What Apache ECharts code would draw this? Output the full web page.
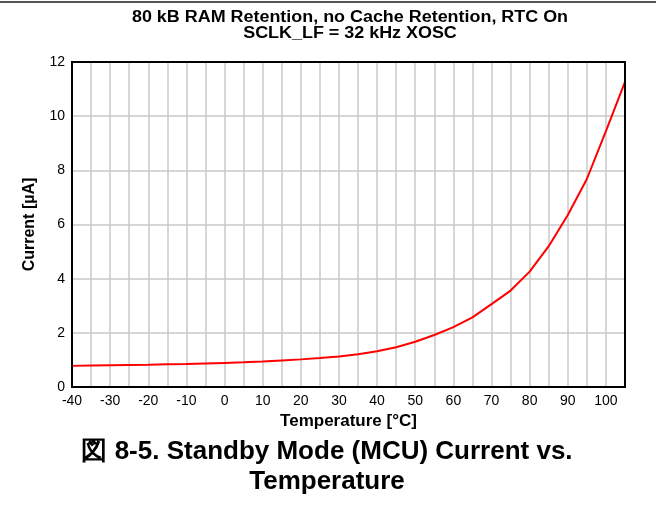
<!DOCTYPE html>
<html>
<head>
<meta charset="utf-8">
<script src="https://cdn.jsdelivr.net/npm/echarts@6/dist/echarts.min.js"></script>
<style>
html,body{margin:0;padding:0;background:#fff;}
#chart{width:656px;height:510px;}
</style>
</head>
<body>
<div id="chart"></div>
<script>
const temperatures = [-40,-35,-30,-25,-20,-15,-10,-5,0,5,10,15,20,25,30,35,40,45,50,55,60,65,70,75,80,85,90,95,100,105];
const currentUA = [0.78,0.79,0.80,0.81,0.82,0.84,0.85,0.87,0.89,0.91,0.94,0.98,1.02,1.07,1.13,1.21,1.32,1.47,1.67,1.92,2.21,2.57,3.06,3.56,4.26,5.2,6.35,7.68,9.45,11.27];
const titleLines = ['80 kB RAM Retention, no Cache Retention, RTC On', 'SCLK_LF = 32 kHz XOSC'];
const xName = 'Temperature [°C]';
const yName = 'Current [µA]';
const captionLines = ['図 8-5. Standby Mode (MCU) Current vs.', 'Temperature'];

const FONT = '"Liberation Sans", Arial, sans-serif';
const chart = echarts.init(document.getElementById('chart'), null, {renderer: 'canvas'});
chart.setOption({
  animation: false,
  backgroundColor: '#fff',
  grid: {left: 72, right: 31, top: 62, bottom: 123, containLabel: false},
  xAxis: {
    type: 'value', min: -40, max: 105, interval: 5,
    name: xName, nameLocation: 'middle', nameGap: 21,
    nameTextStyle: {fontFamily: FONT, fontSize: 17, fontWeight: 'bold', color: '#000'},
    axisLine: {show: true, onZero: false, lineStyle: {color: '#000', width: 2}},
    axisTick: {show: false},
    axisLabel: {fontFamily: FONT, fontSize: 14, color: '#000', margin: 7,
      formatter: v => (v % 10 === 0 && v <= 100) ? String(v) : ''},
    splitLine: {show: true, lineStyle: {color: '#c8c8c8', width: 1.5}}
  },
  yAxis: {
    type: 'value', min: 0, max: 12, interval: 2,
    name: yName, nameLocation: 'middle', nameGap: 34, nameRotate: 90,
    nameTextStyle: {fontFamily: FONT, fontSize: 16, fontWeight: 'bold', color: '#000'},
    axisLine: {show: true, onZero: false, lineStyle: {color: '#000', width: 2}},
    axisTick: {show: false},
    axisLabel: {fontFamily: FONT, fontSize: 14, color: '#000', margin: 7},
    splitLine: {show: true, lineStyle: {color: '#c8c8c8', width: 1.5}}
  },
  graphic: [
    {type: 'rect', shape: {x: 0, y: 1, width: 656, height: 2}, style: {fill: '#555'}, z: 10, silent: true},
    {type: 'rect', shape: {x: 72, y: 62, width: 553, height: 325}, style: {fill: 'none', stroke: '#000', lineWidth: 2}, z: 5, silent: true},
    {type: 'text', x: 350, y: 9, scaleX: 1.12, style: {text: titleLines.join('\n'), fontFamily: FONT, fontSize: 16, fontWeight: 'bold', fill: '#000', align: 'center', verticalAlign: 'top', lineHeight: 16.5}},
    {type: 'text', x: 327, y: 437, style: {text: captionLines.join('\n'), fontFamily: FONT, fontSize: 26, fontWeight: 'bold', fill: '#000', align: 'center', verticalAlign: 'top', lineHeight: 30}}
  ],
  series: [{
    type: 'line',
    data: temperatures.map((t, i) => [t, currentUA[i]]),
    symbol: 'none',
    lineStyle: {color: '#ff0000', width: 2},
    z: 3
  }]
});
</script>
</body>
</html>
